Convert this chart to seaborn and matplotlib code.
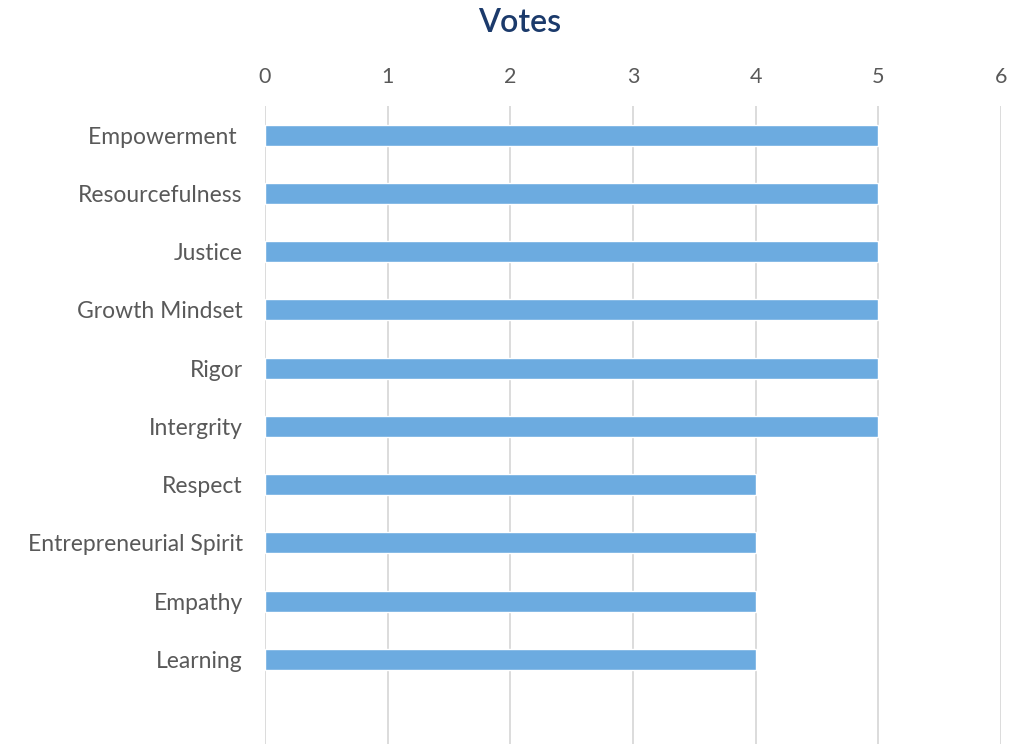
from matplotlib import pyplot as plt
import pandas as pd
import seaborn as sns

values_names = [
    "Empowerment ",
    "Resourcefulness",
    "Justice",
    "Growth Mindset",
    "Rigor",
    "Intergrity",
    "Respect",
    "Entrepreneurial Spirit",
    "Empathy",
    "Learning",
]
votes = [5, 5, 5, 5, 5, 5, 4, 4, 4, 4]
x_ticks = [0, 1, 2, 3, 4, 5, 6]

data = pd.DataFrame({"Value": values_names, "Votes": votes})

sns.set_style("white")
plt.rcParams['font.family'] = ['Lato', 'DejaVu Sans']

fig = plt.figure(figsize=(10.18, 7.44), dpi=100)
ax = fig.add_axes([265 / 1018, 0.0, (1001 - 265) / 1018, (744 - 106) / 744])

g = sns.barplot(
    x="Votes",
    y="Value",
    data=data,
    orient="h",
    color="#6CABE0",
    width=0.36,
    saturation=1,
    ax=ax,
    zorder=3,
)

g.set_xlim(0, 6)
g.set_ylim(10.45, -0.5)
g.set_xticks(x_ticks)
g.xaxis.tick_top()
g.grid(axis="x", color="#D9D9D9", linewidth=1.3, zorder=0)
g.set_axisbelow(True)
for s in g.spines.values():
    s.set_visible(False)
g.tick_params(axis="x", length=0, pad=14, labelsize=15.5, labelcolor="#595959")
g.tick_params(axis="y", length=0, pad=16, labelsize=16.5, labelcolor="#595959")
g.set_xlabel("")
g.set_ylabel("")

fig.text(520 / 1018, 1 - 23 / 744, "Votes", ha="center", va="center",
         fontsize=23, fontweight="semibold", color="#1B3A6B")

path = "out.png"
plt.savefig(path, dpi=100)
print(f"Saved figure to {path}.")
plt.close()
